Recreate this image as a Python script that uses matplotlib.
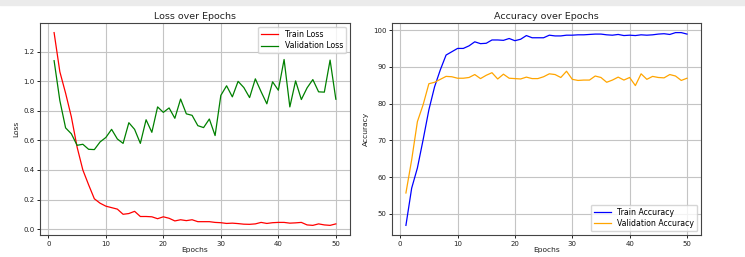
import matplotlib
matplotlib.use("Agg")
import matplotlib.pyplot as plt
from matplotlib.patches import Rectangle

epochs = list(range(1, 51))

train_loss = [1.33, 1.065, 0.92, 0.76, 0.555, 0.40, 0.30, 0.205, 0.175, 0.155,
              0.145, 0.135, 0.100, 0.105, 0.120, 0.085, 0.085, 0.083, 0.070, 0.083,
              0.073, 0.055, 0.063, 0.057, 0.063, 0.050, 0.050, 0.050, 0.045, 0.043,
              0.038, 0.040, 0.037, 0.033, 0.032, 0.035, 0.045, 0.038, 0.043, 0.045,
              0.045, 0.040, 0.042, 0.045, 0.028, 0.025, 0.035, 0.028, 0.025, 0.035]
val_loss = [1.14, 0.87, 0.685, 0.645, 0.567, 0.574, 0.540, 0.538, 0.590, 0.620,
            0.675, 0.610, 0.580, 0.720, 0.675, 0.580, 0.740, 0.655, 0.827, 0.790,
            0.820, 0.750, 0.880, 0.780, 0.770, 0.700, 0.687, 0.745, 0.633, 0.905,
            0.970, 0.895, 1.000, 0.958, 0.890, 1.017, 0.930, 0.848, 0.997, 0.940,
            1.148, 0.827, 1.003, 0.877, 0.956, 1.012, 0.929, 0.927, 1.144, 0.879]

train_acc = [46.9, 57.0, 62.5, 70.2, 78.3, 84.6, 89.2, 93.2, 94.1, 95.0,
             95.0, 95.7, 96.8, 96.3, 96.4, 97.3, 97.3, 97.2, 97.7, 97.1,
             97.5, 98.5, 97.9, 97.9, 97.9, 98.6, 98.4, 98.4, 98.6, 98.6,
             98.7, 98.7, 98.8, 98.9, 98.9, 98.7, 98.6, 98.8, 98.5, 98.6,
             98.5, 98.7, 98.6, 98.7, 98.9, 99.0, 98.8, 99.3, 99.3, 98.9]
val_acc = [55.7, 64.7, 75.1, 79.7, 85.4, 85.8, 86.6, 87.4, 87.3, 86.9,
           86.9, 87.1, 87.9, 86.8, 87.7, 88.4, 86.7, 88.0, 86.9, 86.8,
           86.7, 87.2, 86.8, 86.8, 87.3, 88.1, 87.9, 87.1, 88.8, 86.6,
           86.3, 86.4, 86.4, 87.5, 87.1, 85.8, 86.4, 87.2, 86.4, 87.1,
           84.9, 88.1, 86.6, 87.4, 87.1, 87.0, 87.9, 87.5, 86.3, 86.9]

fig = plt.figure(figsize=(7.45, 2.57), dpi=100)
# grey strip at the top of the screenshot
fig.patches.append(Rectangle((0, 1 - 5 / 257), 1, 5 / 257, transform=fig.transFigure,
                             color="#ebebeb", zorder=0))

ax1 = fig.add_axes([0.0537, 0.0856, 0.416, 0.825])
ax2 = fig.add_axes([0.526, 0.0856, 0.415, 0.825])

def style(ax, title, ylabel):
    ax.set_title(title, fontsize=6.8, pad=3, color="#222222")
    ax.set_xlabel("Epochs", fontsize=5.4, labelpad=0, color="#222222")
    ax.set_ylabel(ylabel, fontsize=5.4, labelpad=3, color="#222222")
    ax.tick_params(labelsize=5.0, length=2.5, width=0.6, pad=1.5,
                   labelcolor="#222222")
    ax.grid(True, color="#c4c4c4", linewidth=0.8)
    ax.set_axisbelow(True)
    for s in ax.spines.values():
        s.set_color("#444444")
        s.set_linewidth(0.8)
    ax.set_xticks([0, 10, 20, 30, 40, 50])

ax1.plot(epochs, train_loss, color="red", lw=0.9, label="Train Loss")
ax1.plot(epochs, val_loss, color="green", lw=0.9, label="Validation Loss")
style(ax1, "Loss over Epochs", "Loss")
ax1.set_yticks([0.0, 0.2, 0.4, 0.6, 0.8, 1.0, 1.2])
ax1.legend(loc="upper right", fontsize=5.6, handlelength=2.2, borderpad=0.4,
           labelspacing=0.3)

ax2.plot(epochs, train_acc, color="blue", lw=0.9, label="Train Accuracy")
ax2.plot(epochs, val_acc, color="orange", lw=0.9, label="Validation Accuracy")
style(ax2, "Accuracy over Epochs", "Accuracy")
ax2.set_yticks([50, 60, 70, 80, 90, 100])
ax2.legend(loc="lower right", fontsize=5.6, handlelength=2.2, borderpad=0.4,
           labelspacing=0.3)

fig.savefig("out.png", dpi=100)
